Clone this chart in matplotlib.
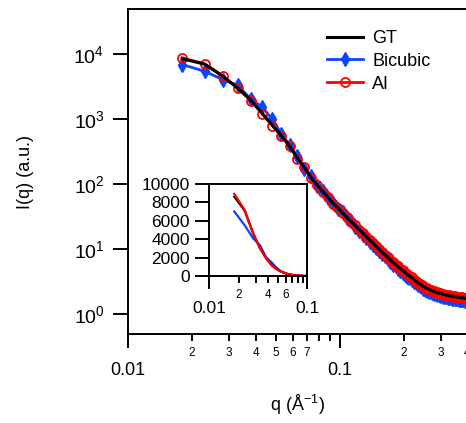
"""SAXS I(q) comparison: ground truth vs bicubic vs AI upsampling, with linear inset."""

import math

import matplotlib
matplotlib.use("Agg")
import matplotlib.pyplot as plt
from matplotlib.ticker import FixedLocator, FuncFormatter, LogLocator, NullLocator

matplotlib.rcParams["axes.unicode_minus"] = False
matplotlib.rcParams["font.family"] = ["Liberation Sans", "DejaVu Sans"]
matplotlib.rcParams["mathtext.fontset"] = "custom"
matplotlib.rcParams["mathtext.rm"] = "Liberation Sans"
matplotlib.rcParams["mathtext.it"] = "Liberation Sans"
matplotlib.rcParams["mathtext.default"] = "regular"

# q grid (1/A)
q = [0.018, 0.023, 0.028, 0.033, 0.038, 0.043, 0.048, 0.053, 0.058, 0.063,
     0.068, 0.073, 0.078, 0.083, 0.088, 0.093, 0.098, 0.103, 0.108, 0.113,
     0.118, 0.123, 0.128, 0.133, 0.138, 0.143, 0.148, 0.153, 0.158, 0.163,
     0.168, 0.173, 0.178, 0.183, 0.188, 0.193, 0.198, 0.203, 0.208, 0.213,
     0.218, 0.223, 0.228, 0.233, 0.238, 0.243, 0.248, 0.253, 0.258, 0.263,
     0.268, 0.273, 0.278, 0.283, 0.288, 0.293, 0.298, 0.303, 0.308, 0.313,
     0.318, 0.323, 0.328, 0.333, 0.338, 0.343, 0.348, 0.353, 0.358, 0.363,
     0.368, 0.373, 0.378, 0.383, 0.388, 0.393, 0.398, 0.403, 0.408, 0.413,
     0.418, 0.423, 0.428, 0.433, 0.438]

gt = [8600, 7080, 4620, 3020, 1980, 1240, 813, 560, 385, 255,
      182, 129, 98, 78, 63, 51, 43.6, 36.3, 30.9, 26.9,
      23.4, 20.4, 18.0, 15.8, 14.1, 12.6, 11.2, 10.1, 9.1, 8.3,
      7.6, 6.9, 6.3, 5.9, 5.4, 5.07, 4.73, 4.42, 4.12, 3.89,
      3.67, 3.47, 3.24, 3.09, 2.95, 2.82, 2.69, 2.60, 2.51, 2.43,
      2.36, 2.30, 2.25, 2.20, 2.16, 2.13, 2.09, 2.08, 2.03, 2.02,
      1.97, 1.97, 1.93, 1.94, 1.89, 1.91, 1.86, 1.88, 1.84, 1.85,
      1.81, 1.83, 1.79, 1.80, 1.77, 1.78, 1.74, 1.76, 1.72, 1.74,
      1.70, 1.72, 1.68, 1.70, 1.66]

bicubic = [7000, 5500, 4100, 3350, 2050, 1550, 1000, 600, 400, 270,
           175, 135, 95, 80, 61, 52, 42, 37, 30, 27.3,
           22.0, 19.5, 16.9, 15.0, 13.2, 11.9, 10.4, 9.5, 8.5, 7.8,
           7.1, 6.5, 5.8, 5.5, 5.0, 4.7, 4.4, 4.1, 3.8, 3.6,
           3.4, 3.2, 3.0, 2.86, 2.73, 2.60, 2.49, 2.40, 2.32, 2.24,
           2.18, 2.12, 2.07, 2.03, 1.99, 1.96, 1.93, 1.90, 1.87, 1.85,
           1.83, 1.80, 1.78, 1.77, 1.75, 1.74, 1.72, 1.71, 1.70, 1.69,
           1.67, 1.66, 1.65, 1.64, 1.63, 1.62, 1.61, 1.60, 1.59, 1.58,
           1.57, 1.56, 1.55, 1.54, 1.53]

ai = [8900, 7150, 4700, 3000, 1950, 1220, 800, 560, 390, 250,
      185, 127, 99, 77, 64, 50.5, 44, 36, 31.2, 26.6,
      23.6, 20.2, 18.2, 15.7, 14.2, 12.5, 11.3, 10.0, 9.2, 8.2,
      7.7, 6.8, 6.4, 5.8, 5.5, 5.0, 4.78, 4.38, 4.16, 3.86,
      3.70, 3.44, 3.27, 3.06, 2.98, 2.79, 2.72, 2.57, 2.54, 2.40,
      2.39, 2.27, 2.28, 2.17, 2.19, 2.10, 2.12, 2.04, 2.07, 1.98,
      2.02, 1.93, 1.97, 1.89, 1.94, 1.86, 1.91, 1.83, 1.88, 1.81,
      1.85, 1.78, 1.83, 1.76, 1.81, 1.73, 1.78, 1.71, 1.77, 1.69,
      1.74, 1.67, 1.72, 1.65, 1.70]

BLUE, RED = "#0a46ff", "#ff0000"

W, H = 466, 423
fig = plt.figure(figsize=(W / 100, H / 100), dpi=100)


def px_axes(x0, y0, x1, y1):
    """Axes rectangle from pixel box (left, top, right, bottom)."""
    return fig.add_axes([x0 / W, 1 - y1 / H, (x1 - x0) / W, (y1 - y0) / H])


def minor_digit(v, _pos):
    s = f"{v:.3g}".replace("0.", "").lstrip("0")
    d = int(s[0]) if s else 0
    return str(d) if 2 <= d <= 7 else ""


# ---- main log-log panel (right side runs past the crop) ----
ax = px_axes(128, 9, 488, 334)
ax.plot(q, bicubic, color=BLUE, lw=2.0, marker="d", ms=7, mec=BLUE, mfc=BLUE,
        zorder=2, label="Bicubic")
ax.plot(q, ai, color=RED, lw=2.0, marker="o", ms=6.5, mfc="none", mec=RED,
        mew=1.3, zorder=3, label="AI")
ax.plot(q, gt, color="black", lw=2.2, zorder=4, label="GT")
ax.set_xscale("log")
ax.set_yscale("log")
ax.set_xlim(0.01, 0.5)
ax.set_ylim(0.5, 5e4)

for s in ax.spines.values():
    s.set_linewidth(1.4)
ax.tick_params(which="both", direction="out", top=False, right=False, width=1.4)
ax.tick_params(axis="x", which="major", length=10, labelsize=13, pad=10)
ax.tick_params(axis="x", which="minor", length=5, labelsize=8.5, pad=4)
ax.tick_params(axis="y", which="major", length=11, labelsize=14, pad=6)
ax.yaxis.set_major_locator(FixedLocator([1, 10, 100, 1000, 10000]))
ax.yaxis.set_major_formatter(FuncFormatter(lambda v, p: rf"$10^{{{int(round(math.log10(v)))}}}$"))
ax.yaxis.set_minor_locator(NullLocator())
ax.xaxis.set_major_locator(FixedLocator([0.01, 0.1]))
ax.xaxis.set_major_formatter(FuncFormatter(lambda v, p: f"{v:g}"))
ax.xaxis.set_minor_locator(LogLocator(base=10, subs=range(2, 10), numticks=20))
ax.xaxis.set_minor_formatter(FuncFormatter(minor_digit))

handles, labels = ax.get_legend_handles_labels()
order = [2, 0, 1]
ax.legend([handles[i] for i in order], [labels[i] for i in order],
          loc="upper left", bbox_to_anchor=(327 / W, 1 - 30 / H),
          bbox_transform=fig.transFigure, frameon=False, fontsize=13,
          handlelength=2.0, handletextpad=0.5, labelspacing=0.32,
          borderpad=0, borderaxespad=0)

fig.text(25 / W, 1 - 172 / H, "I(q) (a.u.)", rotation=90, ha="center", va="center", fontsize=13)
fig.text(297 / W, 1 - 405 / H, r"q (Å$^{-1}$)", ha="center", va="center", fontsize=13)

# ---- linear inset ----
ins = px_axes(209.3, 183.7, 307.3, 276.4)
ins.set_facecolor("white")
ins.set_zorder(5)
ins.plot(q, bicubic, color=BLUE, lw=1.6)
ins.plot(q, gt, color="black", lw=1.6)
ins.plot(q, ai, color=RED, lw=1.6)
ins.set_xscale("log")
ins.set_xlim(0.01, 0.1)
ins.set_ylim(0, 10000)
for s in ins.spines.values():
    s.set_linewidth(1.4)
ins.tick_params(which="both", direction="out", width=1.4)
ins.tick_params(axis="y", length=10, labelsize=12.5, pad=4)
ins.tick_params(axis="x", which="major", length=9.5, labelsize=12.5, pad=8)
ins.tick_params(axis="x", which="minor", length=4.8, labelsize=8.5, pad=4)
ins.yaxis.set_major_locator(FixedLocator([0, 2000, 4000, 6000, 8000, 10000]))
ins.yaxis.set_minor_locator(NullLocator())
ins.xaxis.set_major_locator(FixedLocator([0.01, 0.1]))
ins.xaxis.set_major_formatter(FuncFormatter(lambda v, p: f"{v:g}"))
ins.xaxis.set_minor_locator(LogLocator(base=10, subs=range(2, 10), numticks=20))
ins.xaxis.set_minor_formatter(FuncFormatter(
    lambda v, p: minor_digit(v, p) if minor_digit(v, p) in ("2", "4", "6") else ""))

fig.savefig("out.png", dpi=100)
